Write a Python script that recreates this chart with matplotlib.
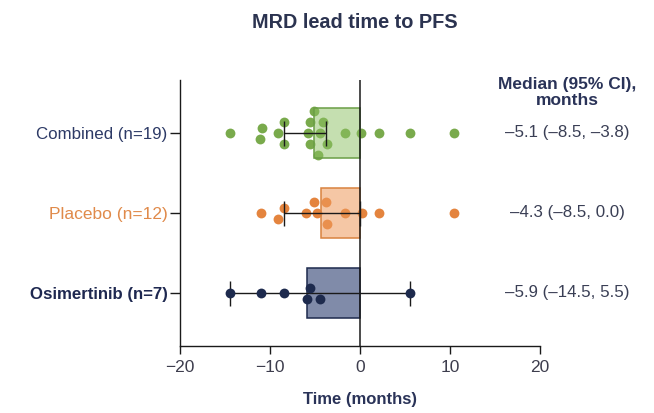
import numpy as np
import matplotlib
matplotlib.use("Agg")
import matplotlib.pyplot as plt

plt.rcParams['font.family'] = ['Liberation Sans', 'DejaVu Sans']

# lead time of MRD detection relative to PFS event, months
groups = ["Combined (n=19)", "Placebo (n=12)", "Osimertinib (n=7)"]
combined = [-14.4, -11.1, -10.9, -9.1, -8.4, -8.4, -5.8, -5.6, -5.6, -5.1,
            -4.7, -4.5, -4.1, -3.7, -1.7, 0.1, 2.1, 5.6, 10.4]
placebo = [-11.0, -9.1, -8.5, -6.0, -5.1, -4.8, -3.8, -3.7, -1.7, 0.2, 2.1, 10.4]
osimertinib = [-14.5, -11.0, -8.5, -5.9, -5.6, -4.5, 5.5]
medians = [-5.1, -4.3, -5.9]
ci_low = [-8.5, -8.5, -14.5]
ci_high = [-3.8, 0.0, 5.5]

point_colors = ["#79aa4c", "#e4843e", "#1d2a4d"]
bar_colors = ["#8dc063", "#ee9a5c", "#4a5a85"]
bar_alpha = [0.5, 0.55, 0.7]
edge_colors = ["#6a9e45", "#d9823f", "#1d2a4d"]
label_colors = ["#2d3a66", "#e08a4a", "#1e2850"]
navy = "#2a3358"

W, H, DPI = 6.54, 4.13, 100
fig = plt.figure(figsize=(W, H), dpi=DPI)
ax = fig.add_axes([180 / 654, 67 / 413, 360 / 654, 266 / 413])
xlim = (-20, 20)
ylim = (-0.6625, 2.6625)
ax.set_xlim(*xlim)
ax.set_ylim(*ylim)

px_y = H * DPI * ax.get_position().height / (ylim[1] - ylim[0])


def swarm(values, diam=1.17, lane_px=11):
    # scatter points into horizontal lanes so that none overlap,
    # then centre each cluster of touching points on the row
    values = np.asarray(values)
    order = np.argsort(values, kind="stable")
    lanes, lane_of = {}, np.zeros(len(values))
    for i in order:
        for lane in [0, 1, -1, 2, -2, 3, -3]:
            if all(abs(values[i] - w) >= diam for w in lanes.get(lane, [])):
                break
        lanes.setdefault(lane, []).append(values[i])
        lane_of[i] = lane
    clusters, cur = [], [order[0]]
    for a, b in zip(order[:-1], order[1:]):
        if values[b] - values[a] >= diam:
            clusters.append(cur)
            cur = []
        cur.append(b)
    clusters.append(cur)
    for c in clusters:
        shift = (lane_of[c].max() + lane_of[c].min()) / 2
        lane_of[c] -= shift
    return lane_of * lane_px / px_y


rows = [2, 1, 0]
for k, vals in enumerate([combined, placebo, osimertinib]):
    y = rows[k]
    vals = np.array(vals)
    z_pts = 5 if k == 2 else 2
    ax.scatter(vals, y + swarm(vals), s=50, color=point_colors[k], zorder=z_pts,
               linewidths=0)
    ax.barh(y, medians[k], height=0.62, color=bar_colors[k], alpha=bar_alpha[k],
            zorder=3)
    ax.barh(y, medians[k], height=0.62, fill=False, edgecolor=edge_colors[k],
            linewidth=1.1, zorder=3.5)
    ax.errorbar([(ci_low[k] + ci_high[k]) / 2], [y],
                xerr=[[(ci_high[k] - ci_low[k]) / 2]] * 2,
                fmt="none", ecolor="#1a1a1a", elinewidth=1.0, capsize=9,
                capthick=1.0, zorder=4)
    txt = f"{medians[k]:.1f} ({ci_low[k]:.1f}, {ci_high[k]:.1f})".replace("-", "\u2013")
    ax.text(23, y, txt, ha="center", va="center", fontsize=12.2, color="#3a3f55",
            clip_on=False)

ax.axvline(0, color="#1a1a1a", lw=1.1, zorder=4)

ax.text(23, 2.51, "Median (95% CI),\nmonths", ha="center", va="center",
        fontsize=12.5, fontweight="bold", color=navy, clip_on=False,
        linespacing=1.1)

ax.spines[["top", "right"]].set_visible(False)
for s in ["left", "bottom"]:
    ax.spines[s].set_linewidth(1.0)
    ax.spines[s].set_color("#1a1a1a")

ax.set_yticks(rows)
ax.set_yticklabels(groups)
for lab, c in zip(ax.get_yticklabels(), label_colors):
    lab.set_color(c)
    lab.set_fontsize(12.2)
ax.get_yticklabels()[1].set_fontsize(12.5)
ax.get_yticklabels()[2].set_fontweight("bold")
ax.get_yticklabels()[2].set_fontsize(12.1)
ax.tick_params(axis="y", length=7, width=1.0, pad=2, color="#1a1a1a")

ax.set_xticks([-20, -10, 0, 10, 20])
ax.tick_params(axis="x", length=6, width=1.0, pad=4, labelsize=12.5,
               labelcolor="#3d3d4d", color="#1a1a1a")
ax.set_xlabel("Time (months)", fontsize=12, fontweight="bold", color=navy,
              labelpad=12)

fig.text(355 / 654, 1 - 22 / 413, "MRD lead time to PFS", ha="center", va="center",
         fontsize=14.3, fontweight="bold", color="#2b3350")

fig.savefig("out.png", dpi=DPI)
